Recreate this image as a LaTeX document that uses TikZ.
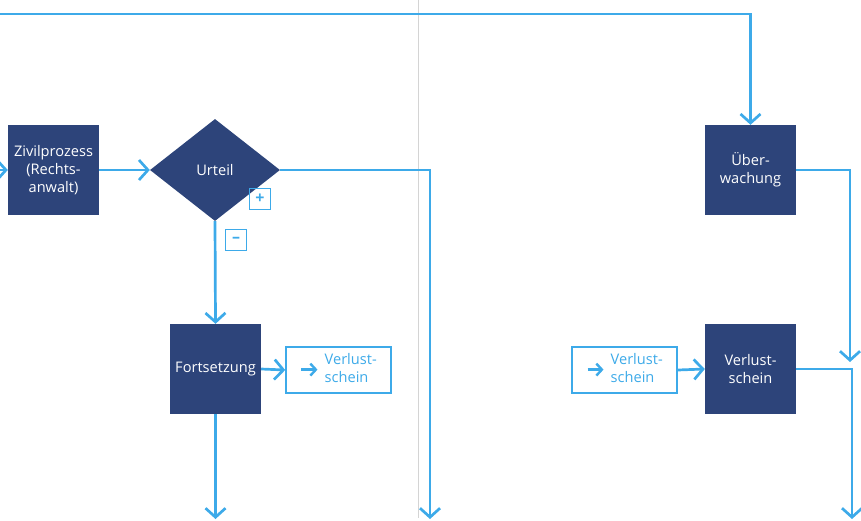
\documentclass[tikz,border=0pt]{standalone}
\usepackage{fontspec}
\setmainfont{Open Sans}
\usetikzlibrary{arrows.meta,shapes.geometric,positioning}
\definecolor{nachtblau}{RGB}{45,68,122}
\definecolor{hellblau}{RGB}{61,170,233}
\definecolor{trenngrau}{RGB}{212,212,212}
\tikzset{
  basic/.style     = {font=\fontsize{14.6}{18}\selectfont, align=center, inner sep=0pt},
  schritt/.style   = {basic, rectangle, fill=nachtblau, text=white,
                      minimum width=91pt, minimum height=90pt},
  entscheid/.style = {basic, diamond, fill=nachtblau, text=white,
                      minimum width=130pt, minimum height=102pt},
  hinweis/.style   = {basic, rectangle, draw=hellblau, line width=1.6pt, text=hellblau,
                      fill=white, minimum width=105pt, minimum height=46pt},
  marke/.style     = {basic, rectangle, draw=hellblau, line width=1.5pt, text=hellblau,
                      minimum size=21pt, font=\fontsize{16}{16}\selectfont\bfseries},
  fluss/.style     = {draw=hellblau, line width=2.7pt,
                      -{Straight Barb[length=9pt,width=20pt]}}
}
\newcommand{\pfeilchen}{\tikz[baseline=-4pt]\draw[hellblau, line width=2.4pt,
  -{Straight Barb[length=5.5pt,width=12pt]}] (0,0) -- (16pt,0);}

\begin{document}
\begin{tikzpicture}[x=1pt, y=-1pt]
	\useasboundingbox (0,0) rectangle (861,520);
	
	% divider between the two halves
	\draw[trenngrau, line width=1pt] (418,0) -- (418,518);
	
	% left half
	\node[schritt] (zivil) at (53.5,170) {Zivilprozess\\(Rechts-\\anwalt)};
	\node[entscheid] (urteil) at (215,170) {Urteil};
	\node[marke] (plus) at (260,199) {+};
	\node[marke] (minus) at (236,240) {–};
	\node[schritt] (fort) at (215.5,369) {Fortsetzung};
	\node[hinweis] (verl1) at (338.5,370)
	  {\pfeilchen\hspace{6pt}\begin{tabular}[c]{@{}l@{}}Verlust-\\schein\end{tabular}};
	
	% right half
	\node[schritt] (ueber) at (750.5,170) {Über-\\wachung};
	\node[schritt] (verl2) at (750.5,369) {Verlust-\\schein};
	\node[hinweis] (verl0) at (624.5,370)
	  {\pfeilchen\hspace{6pt}\begin{tabular}[c]{@{}l@{}}Verlust-\\schein\end{tabular}};
	
	% free ends
	\coordinate (links) at (-10,170);
	\coordinate (oben) at (-10,14);
	\coordinate (knoten) at (850,362);
	\coordinate (unten1) at (215.5,519);
	\coordinate (unten2) at (430,519);
	\coordinate (unten3) at (852,519);
	
	% connectors
	\draw[fluss] (links) -- (zivil.west);
	\draw[fluss] (zivil.east) -- (urteil.west);
	\draw[fluss] (urteil.south) -- (fort.north);
	\draw[fluss] (urteil.east) -| (unten2);
	\draw[fluss] (fort.east) -- (verl1.west);
	\draw[fluss] (fort.south) -- (unten1);
	\draw[fluss] (oben) -| (ueber.north);
	\draw[fluss] (ueber.east) -| (knoten);
	\draw[fluss] (verl0.east) -- (verl2.west);
	\draw[fluss] (verl2.east) -| (unten3);
	
\end{tikzpicture}
\end{document}
